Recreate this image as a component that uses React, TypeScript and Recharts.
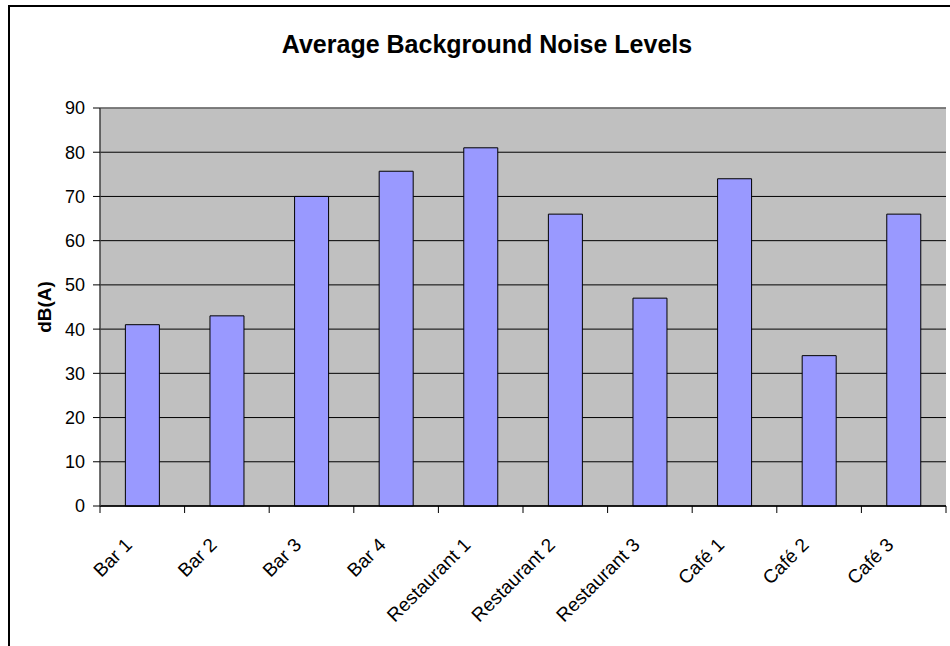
import React from 'react';
import { BarChart, Bar, XAxis, YAxis, CartesianGrid, ReferenceLine, Customized } from 'recharts';

const categories = ['Bar 1', 'Bar 2', 'Bar 3', 'Bar 4', 'Restaurant 1', 'Restaurant 2', 'Restaurant 3', 'Café 1', 'Café 2', 'Café 3'];
const noiseLevels = [41, 43, 70, 75.7, 81, 66, 47, 74, 34, 66];
const yTicks = [0, 10, 20, 30, 40, 50, 60, 70, 80, 90];
const title = 'Average Background Noise Levels';
const yLabel = 'dB(A)';

const data = categories.map((name, i) => ({ name, value: noiseLevels[i] }));

const W = 950;
const H = 646;
const FONT = '"Liberation Sans", Arial, Helvetica, sans-serif';
const PLOT_LEFT = 100;
const PLOT_TOP = 108;
const PLOT_RIGHT = 946;
const PLOT_BOTTOM = 506;
const Y_AXIS_W = 60;
const X_AXIS_H = 130;

const XTick = (props: any) => {
  const { x, y, payload, index, width, visibleTicksCount } = props;
  const n = visibleTicksCount || categories.length;
  const half = width ? width / n / 2 : (payload && payload.offset) || 42;
  const lx = x - half;
  const rx = x + half;
  const tx = x - 9;
  const ty = y + 40;
  return (
    <g>
      <line x1={lx} x2={lx} y1={y} y2={y + 7} stroke="#000" strokeWidth={1} />
      {index === n - 1 && <line x1={rx} x2={rx} y1={y} y2={y + 7} stroke="#000" strokeWidth={1} />}
      <text
        x={tx}
        y={ty}
        transform={`rotate(-45, ${tx}, ${ty})`}
        textAnchor="end"
        fontSize={19}
        fontFamily={FONT}
        fill="#000"
      >
        {payload.value}
      </text>
    </g>
  );
};

const Decor = () => (
  <g>
    <rect x={9} y={6} width={1000} height={1000} fill="none" stroke="#000" strokeWidth={2} />
    <text x={487} y={53} textAnchor="middle" fontSize={25} fontWeight="bold" fontFamily={FONT} fill="#000">
      {title}
    </text>
    <text
      x={44}
      y={(PLOT_TOP + PLOT_BOTTOM) / 2}
      transform={`rotate(-90, 44, ${(PLOT_TOP + PLOT_BOTTOM) / 2})`}
      textAnchor="middle"
      dominantBaseline="central"
      fontSize={19}
      fontWeight="bold"
      fontFamily={FONT}
      fill="#000"
    >
      {yLabel}
    </text>
  </g>
);

export default function App() {
  return (
    <div style={{ position: 'absolute', left: 0, top: 0, width: W, height: H, overflow: 'hidden', background: '#fff' }}>
      <BarChart
        width={W}
        height={H}
        data={data}
        barCategoryGap="30%"
        margin={{ top: PLOT_TOP, left: PLOT_LEFT - Y_AXIS_W, right: W - PLOT_RIGHT, bottom: H - PLOT_BOTTOM - X_AXIS_H }}
      >
        <CartesianGrid vertical={false} fill="#C0C0C0" stroke="#000" strokeOpacity={1} />
        <XAxis
          dataKey="name"
          interval={0}
          height={X_AXIS_H}
          tickLine={false}
          tickSize={0}
          tickMargin={0}
          tick={<XTick />}
          axisLine={{ stroke: '#000', strokeWidth: 1.5 }}
        />
        <YAxis
          domain={[0, 90]}
          ticks={yTicks}
          width={Y_AXIS_W}
          tickSize={7}
          tickMargin={8}
          tickLine={{ stroke: '#000' }}
          axisLine={{ stroke: '#404040', strokeWidth: 1.5 }}
          tick={{ fontSize: 18, fill: '#000', fontFamily: FONT }}
          interval={0}
        />
        <YAxis
          yAxisId="frame"
          orientation="right"
          width={0}
          domain={[0, 90]}
          tick={false}
          tickLine={false}
          axisLine={{ stroke: '#8a8a8a', strokeWidth: 2 }}
        />
        <ReferenceLine y={90} stroke="#808080" strokeWidth={1.5} ifOverflow="visible" />
        <Bar dataKey="value" fill="#9999FF" stroke="#000" strokeWidth={1} isAnimationActive={false} />
        <Customized component={Decor} />
      </BarChart>
    </div>
  );
}
